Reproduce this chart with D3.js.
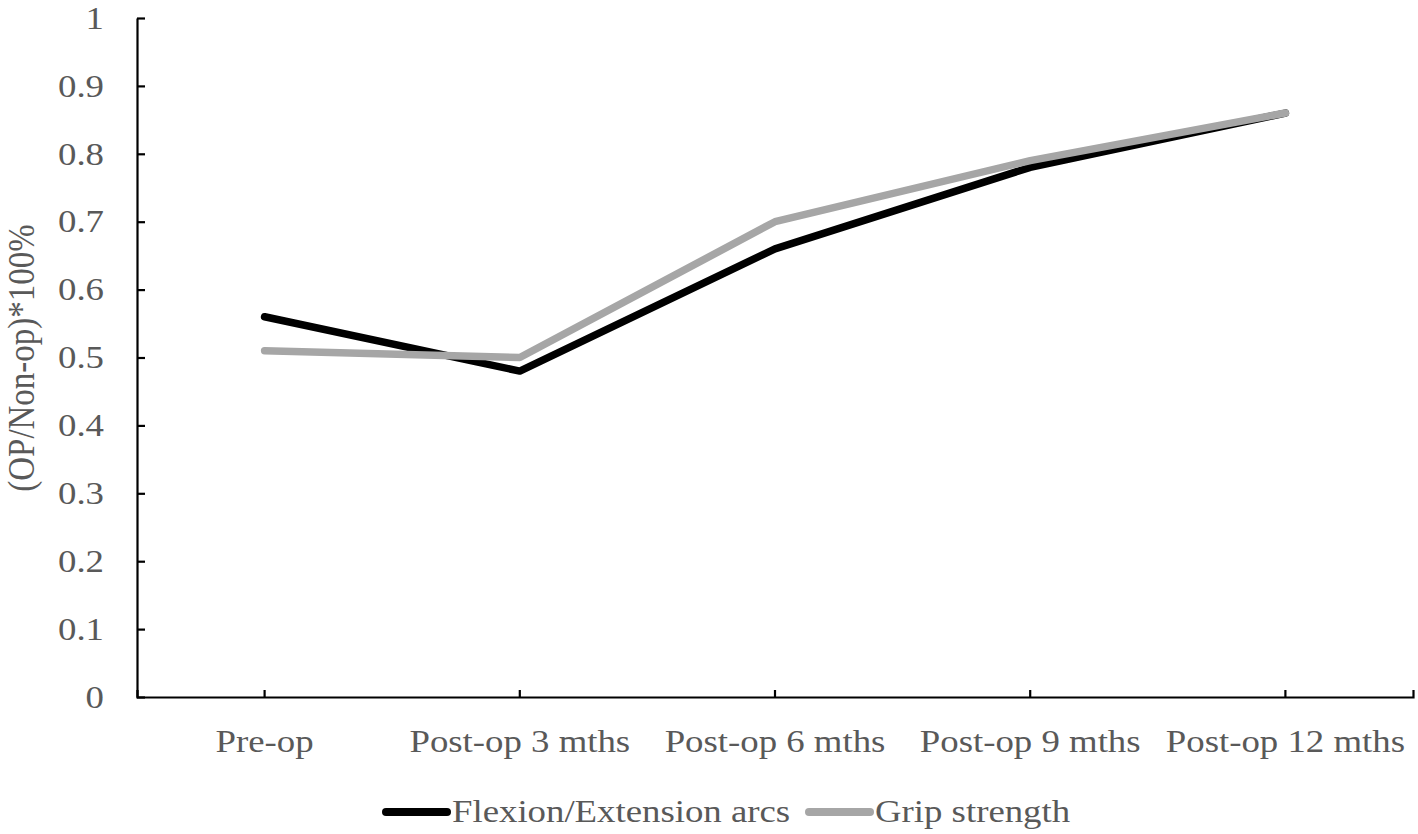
<!DOCTYPE html>
<html>
<head>
<meta charset="utf-8">
<script src="https://cdn.jsdelivr.net/npm/d3@7"></script>
<style>
  html, body { margin: 0; padding: 0; background: #fff; }
  svg { display: block; }
  text { font-family: "Liberation Serif", "Times New Roman", serif; fill: #595959; }
</style>
</head>
<body>
<svg id="chart" width="1418" height="834"></svg>
<script>
const categories = ["Pre-op", "Post-op 3 mths", "Post-op 6 mths", "Post-op 9 mths", "Post-op 12 mths"];
const flexionValues = [0.56, 0.48, 0.66, 0.78, 0.86];
const gripValues = [0.51, 0.50, 0.70, 0.79, 0.86];
const yTicks = [0, 0.1, 0.2, 0.3, 0.4, 0.5, 0.6, 0.7, 0.8, 0.9, 1];
const yTickLabels = ["0", "0.1", "0.2", "0.3", "0.4", "0.5", "0.6", "0.7", "0.8", "0.9", "1"];
const seriesNames = ["Flexion/Extension arcs", "Grip strength"];
const seriesColors = ["#000000", "#a6a6a6"];
const yTitle = "(OP/Non-op)*100%";

(function () {
const SX = 1.15; // horizontal text stretch seen in reference
const FS = 32;

const svg = d3.select("#chart");
const mLeft = 137, mRight = 1413, mTop = 18, mBottom = 697;

const x = d3.scaleBand().domain(categories).range([mLeft, mRight]).padding(0);
const y = d3.scaleLinear().domain([0, 1]).range([mBottom, mTop]);

// Y axis
const yAxis = d3.axisLeft(y).tickValues(yTicks)
  .tickFormat((d, i) => yTickLabels[i])
  .tickSizeInner(-8).tickSizeOuter(0);
const gy = svg.append("g").attr("transform", `translate(${mLeft},0)`).call(yAxis);
gy.select(".domain").attr("stroke", "#000").attr("stroke-width", 2.2);
gy.selectAll(".tick line").attr("stroke", "#000").attr("stroke-width", 2.2);
gy.selectAll(".tick text")
  .attr("x", -33 / SX)
  .attr("transform", `scale(${SX},1)`)
  .attr("font-size", FS)
  .style("font-family", "Liberation Serif")
  .attr("fill", "#595959");

// X axis
const xAxis = d3.axisBottom(x).tickSizeInner(-7).tickSizeOuter(-7);
const gx = svg.append("g").attr("transform", `translate(0,${mBottom})`).call(xAxis);
gx.select(".domain").attr("stroke", "#000").attr("stroke-width", 2.2);
gx.selectAll(".tick line").attr("stroke", "#000").attr("stroke-width", 2.2);
gx.selectAll(".tick text")
  .attr("y", 32)
  .attr("transform", `scale(${SX},1)`)
  .attr("font-size", FS)
  .style("font-family", "Liberation Serif")
  .attr("fill", "#595959");

// Y title
svg.append("text")
  .attr("transform", `translate(34,358) scale(${SX},1) rotate(-90)`)
  .attr("text-anchor", "middle")
  .attr("font-size", 33)
  .text(yTitle);

// Lines
const line = d3.line()
  .x((d, i) => x(categories[i]) + x.bandwidth() / 2)
  .y(d => y(d));

[flexionValues, gripValues].forEach((vals, k) => {
  svg.append("path")
    .datum(vals)
    .attr("d", line)
    .attr("fill", "none")
    .attr("stroke", seriesColors[k])
    .attr("stroke-width", 7.5)
    .attr("stroke-linecap", "round")
    .attr("stroke-linejoin", "round");
});

// Legend
const legendItems = [
  { x1: 386, x2: 447, tx: 452 },
  { x1: 809, x2: 870, tx: 875 }
];
const legendY = 812;
legendItems.forEach((it, k) => {
  svg.append("line")
    .attr("x1", it.x1).attr("x2", it.x2)
    .attr("y1", legendY).attr("y2", legendY)
    .attr("stroke", seriesColors[k])
    .attr("stroke-width", 8)
    .attr("stroke-linecap", "round");
  svg.append("text")
    .attr("transform", `translate(${it.tx},${legendY + 10}) scale(${SX},1)`)
    .attr("font-size", FS)
    .text(seriesNames[k]);
});
})();
</script>
</body>
</html>
